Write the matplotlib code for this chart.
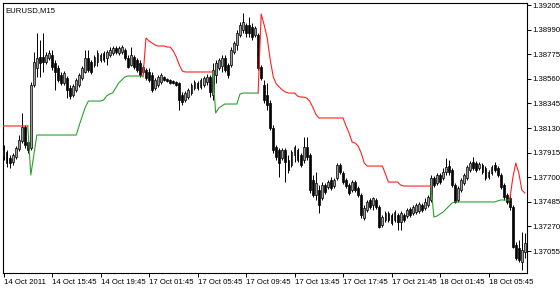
import numpy as np
import matplotlib
matplotlib.use('Agg')
import matplotlib.pyplot as plt

plt.rcParams['font.family'] = ['Liberation Sans', 'DejaVu Sans']

title = 'EURUSD,M15'

opens = [
    1.37886, 1.37921, 1.37868, 1.37833, 1.37877, 1.37947, 1.38017, 1.38139, 1.38008, 1.37955,
    1.38506, 1.38655, 1.38751, 1.38751, 1.38707, 1.38742, 1.38768, 1.38698, 1.38655, 1.38593,
    1.38524, 1.38567, 1.38480, 1.38419, 1.38462, 1.38506, 1.38567, 1.38620, 1.38742, 1.38707,
    1.38681, 1.38707, 1.38725, 1.38786, 1.38742, 1.38768, 1.38786, 1.38829, 1.38786, 1.38795,
    1.38812, 1.38742, 1.38681, 1.38751, 1.38725, 1.38698, 1.38620, 1.38637, 1.38620, 1.38593,
    1.38480, 1.38506, 1.38532, 1.38576, 1.38559, 1.38550, 1.38541, 1.38532, 1.38524, 1.38419,
    1.38375, 1.38401, 1.38436, 1.38480, 1.38524, 1.38489, 1.38506, 1.38532, 1.38576, 1.38419,
    1.38593, 1.38655, 1.38672, 1.38742, 1.38681, 1.38681, 1.38795, 1.38856, 1.38943, 1.38987,
    1.39030, 1.39030, 1.39013, 1.38943, 1.38943, 1.38663, 1.38506, 1.38419, 1.38349, 1.38130,
    1.37964, 1.37938, 1.37868, 1.37938, 1.37851, 1.37807, 1.37894, 1.37938, 1.37894, 1.37851,
    1.37964, 1.37894, 1.37676, 1.37545, 1.37588, 1.37518, 1.37632, 1.37615, 1.37676,
    1.37623, 1.37693, 1.37807, 1.37737, 1.37676, 1.37632, 1.37588, 1.37658, 1.37606, 1.37545,
    1.37344, 1.37414, 1.37501, 1.37457, 1.37501, 1.37440, 1.37283, 1.37326, 1.37387, 1.37370,
    1.37326, 1.37370, 1.37309, 1.37370, 1.37361, 1.37422, 1.37387, 1.37396, 1.37405, 1.37457,
    1.37431, 1.37457, 1.37501, 1.37693, 1.37650, 1.37719, 1.37693, 1.37746, 1.37798, 1.37763,
    1.37632, 1.37501, 1.37588, 1.37650, 1.37693, 1.37763, 1.37833, 1.37824, 1.37781, 1.37807,
    1.37781, 1.37702, 1.37737, 1.37807, 1.37781, 1.37719, 1.37632, 1.37545, 1.37518, 1.37440,
    1.37108, 1.37081, 1.36959, 1.37047,
]
highs = [
    1.37982, 1.37938, 1.37894, 1.37912, 1.37973, 1.38069, 1.38261, 1.38156, 1.38069, 1.38532,
    1.38795, 1.38961, 1.38899, 1.38961, 1.38795, 1.38812, 1.38812, 1.38725, 1.38681, 1.38620,
    1.38628, 1.38585, 1.38506, 1.38515, 1.38567, 1.38611, 1.38672, 1.38812, 1.38812, 1.38725,
    1.38768, 1.38812, 1.38786, 1.38803, 1.38812, 1.38838, 1.38847, 1.38847, 1.38847, 1.38856,
    1.38829, 1.38768, 1.38838, 1.38768, 1.38742, 1.38725, 1.38681, 1.38655, 1.38655, 1.38620,
    1.38567, 1.38593, 1.38611, 1.38585, 1.38567, 1.38559, 1.38550, 1.38541, 1.38532, 1.38445,
    1.38454, 1.38480, 1.38524, 1.38550, 1.38541, 1.38567, 1.38585, 1.38602, 1.38593, 1.38698,
    1.38725, 1.38742, 1.38768, 1.38768, 1.38698, 1.38838, 1.38891, 1.38987, 1.39057, 1.39135,
    1.39048, 1.39100, 1.39048, 1.39022, 1.38961, 1.38681, 1.38550, 1.38524, 1.38375, 1.38156,
    1.37982, 1.37955, 1.37955, 1.37955, 1.37894, 1.37938, 1.37982, 1.37955, 1.37912, 1.38052,
    1.38052, 1.37912, 1.37719, 1.37746, 1.37632, 1.37658, 1.37650, 1.37676, 1.37702,
    1.37693, 1.37824, 1.37824, 1.37754, 1.37693, 1.37650, 1.37676, 1.37676, 1.37623, 1.37562,
    1.37457, 1.37501, 1.37518, 1.37527, 1.37518, 1.37457, 1.37370, 1.37405, 1.37405, 1.37387,
    1.37414, 1.37387, 1.37405, 1.37387, 1.37431, 1.37440, 1.37457, 1.37475, 1.37484, 1.37475,
    1.37518, 1.37545, 1.37719, 1.37711, 1.37737, 1.37737, 1.37781, 1.37868, 1.37851, 1.37781,
    1.37650, 1.37623, 1.37693, 1.37737, 1.37807, 1.37842, 1.37877, 1.37842, 1.37833, 1.37824,
    1.37798, 1.37763, 1.37807, 1.37833, 1.37798, 1.37737, 1.37650, 1.37562, 1.37545, 1.37457,
    1.37134, 1.37151, 1.37221, 1.37213,
]
lows = [
    1.37851, 1.37789, 1.37781, 1.37807, 1.37859, 1.37929, 1.37999, 1.37955, 1.37912, 1.37938,
    1.38489, 1.38576, 1.38576, 1.38620, 1.38690, 1.38725, 1.38637, 1.38462, 1.38532, 1.38506,
    1.38506, 1.38392, 1.38384, 1.38401, 1.38445, 1.38489, 1.38550, 1.38611, 1.38620, 1.38602,
    1.38663, 1.38672, 1.38707, 1.38707, 1.38681, 1.38751, 1.38768, 1.38777, 1.38768, 1.38777,
    1.38725, 1.38655, 1.38672, 1.38646, 1.38620, 1.38576, 1.38602, 1.38550, 1.38532, 1.38445,
    1.38462, 1.38489, 1.38515, 1.38541, 1.38532, 1.38515, 1.38515, 1.38497, 1.38288, 1.38331,
    1.38358, 1.38384, 1.38419, 1.38462, 1.38462, 1.38471, 1.38489, 1.38506, 1.38401, 1.38375,
    1.38524, 1.38637, 1.38620, 1.38620, 1.38567, 1.38663, 1.38777, 1.38812, 1.38926, 1.38961,
    1.38926, 1.38926, 1.38899, 1.38926, 1.38637, 1.38550, 1.38349, 1.38288, 1.38113, 1.37912,
    1.37851, 1.37702, 1.37851, 1.37658, 1.37737, 1.37789, 1.37833, 1.37833, 1.37789, 1.37824,
    1.37851, 1.37562, 1.37527, 1.37501, 1.37387, 1.37501, 1.37553, 1.37597, 1.37588,
    1.37606, 1.37676, 1.37728, 1.37641, 1.37606, 1.37545, 1.37571, 1.37571, 1.37527, 1.37344,
    1.37326, 1.37396, 1.37422, 1.37414, 1.37422, 1.37256, 1.37265, 1.37309, 1.37309, 1.37283,
    1.37309, 1.37239, 1.37239, 1.37309, 1.37344, 1.37352, 1.37370, 1.37379, 1.37387, 1.37396,
    1.37414, 1.37440, 1.37484, 1.37615, 1.37632, 1.37641, 1.37676, 1.37719, 1.37719, 1.37615,
    1.37475, 1.37484, 1.37571, 1.37632, 1.37676, 1.37746, 1.37763, 1.37746, 1.37763, 1.37728,
    1.37676, 1.37685, 1.37719, 1.37746, 1.37702, 1.37597, 1.37501, 1.37466, 1.37414, 1.37081,
    1.36977, 1.36959, 1.36889, 1.36994,
]
closes = [
    1.37938, 1.37824, 1.37824, 1.37894, 1.37955, 1.38025, 1.38139, 1.37982, 1.37938, 1.38506,
    1.38707, 1.38742, 1.38698, 1.38707, 1.38768, 1.38786, 1.38663, 1.38620, 1.38550, 1.38524,
    1.38611, 1.38462, 1.38410, 1.38497, 1.38550, 1.38593, 1.38655, 1.38742, 1.38637, 1.38620,
    1.38751, 1.38786, 1.38768, 1.38725, 1.38795, 1.38812, 1.38829, 1.38795, 1.38829, 1.38838,
    1.38742, 1.38663, 1.38768, 1.38663, 1.38637, 1.38593, 1.38663, 1.38567, 1.38550, 1.38462,
    1.38550, 1.38576, 1.38593, 1.38550, 1.38541, 1.38524, 1.38524, 1.38506, 1.38375, 1.38358,
    1.38436, 1.38462, 1.38506, 1.38532, 1.38480, 1.38550, 1.38567, 1.38576, 1.38445, 1.38637,
    1.38698, 1.38725, 1.38742, 1.38637, 1.38593, 1.38812, 1.38873, 1.38961, 1.39030, 1.39057,
    1.38961, 1.38961, 1.38926, 1.39004, 1.38655, 1.38567, 1.38375, 1.38331, 1.38130, 1.37938,
    1.37877, 1.37824, 1.37938, 1.37833, 1.37763, 1.37921, 1.37964, 1.37851, 1.37807, 1.37964,
    1.37877, 1.37588, 1.37545, 1.37650, 1.37457, 1.37632, 1.37571, 1.37658, 1.37606,
    1.37676, 1.37807, 1.37746, 1.37658, 1.37623, 1.37562, 1.37658, 1.37588, 1.37545, 1.37370,
    1.37431, 1.37484, 1.37440, 1.37518, 1.37440, 1.37265, 1.37352, 1.37387, 1.37326, 1.37300,
    1.37396, 1.37309, 1.37387, 1.37326, 1.37414, 1.37370, 1.37440, 1.37457, 1.37466, 1.37414,
    1.37484, 1.37527, 1.37693, 1.37632, 1.37719, 1.37658, 1.37746, 1.37789, 1.37746, 1.37632,
    1.37484, 1.37606, 1.37676, 1.37719, 1.37789, 1.37824, 1.37781, 1.37763, 1.37816, 1.37746,
    1.37693, 1.37746, 1.37789, 1.37763, 1.37719, 1.37615, 1.37527, 1.37484, 1.37440, 1.37090,
    1.36994, 1.36977, 1.37064, 1.37125,
]

# indicator: (first bar, values)
red_segments = [
    (0, [1.38148] * 9),
    (46, [1.38576, 1.38917, 1.38891, 1.38873, 1.38856, 1.38847, 1.38847, 1.38847,
          1.38838, 1.38838, 1.38803, 1.38751, 1.38681, 1.38628] + [1.38620] * 10),
    (84, [1.38436, 1.39127, 1.39030, 1.38917, 1.38725, 1.38576, 1.38515, 1.38489,
          1.38462, 1.38445] + [1.38436] * 3 + [1.38410] + [1.38401] * 2
         + [1.38392, 1.38366, 1.38314, 1.38253] + [1.38218] * 9
         + [1.38148, 1.38087, 1.38008, 1.37999, 1.37973, 1.37912, 1.37824]
         + [1.37798] * 6 + [1.37728] + [1.37658] * 4 + [1.37632] + [1.37623] * 10),
    (167, [1.37501, 1.37693, 1.37824, 1.37737, 1.37588, 1.37562]),
]
green_segments = [
    (8, [1.38148, 1.37719, 1.37894] + [1.38069] * 14 + [1.38156, 1.38235, 1.38314]
        + [1.38366] * 5 + [1.38375, 1.38410, 1.38427, 1.38436, 1.38480, 1.38524,
                           1.38550, 1.38576] + [1.38585] * 6),
    (69, [1.38620, 1.38261, 1.38305, 1.38323] + [1.38340] * 5 + [1.38427] + [1.38436] * 6),
    (141, [1.37623, 1.37352, 1.37361, 1.37379, 1.37396, 1.37422, 1.37449, 1.37475]
          + [1.37484] * 14 + [1.37492] + [1.37501] * 4),
]

tick_bars = [0, 16, 32, 48, 64, 80, 96, 112, 128, 144, 160]
tick_labels = ['14 Oct 2011', '14 Oct 15:45', '14 Oct 19:45', '17 Oct 01:45',
               '17 Oct 05:45', '17 Oct 09:45', '17 Oct 13:45', '17 Oct 17:45',
               '17 Oct 21:45', '18 Oct 01:45', '18 Oct 05:45']
price_ticks = [1.39205, 1.38990, 1.38775, 1.38560, 1.38345, 1.38130,
               1.37915, 1.37700, 1.37485, 1.37270, 1.37055]


def build_line(segments, n):
    arr = np.full(n, np.nan)
    for start, vals in segments:
        arr[start:start + len(vals)] = vals
    return arr


o = np.array(opens)
h = np.array(highs)
l = np.array(lows)
c = np.array(closes)
n = len(o)
x = np.arange(n)

red = build_line(red_segments, n)
green = build_line(green_segments, n)

fig = plt.figure(figsize=(5.6, 2.88), dpi=100)
ax = fig.add_axes([3 / 560, 15 / 288, 524 / 560, 270 / 288])

ax.vlines(x, l, h, color='black', linewidth=0.7, zorder=2)
up = c >= o
body_lo = np.minimum(o, c)
body_h = np.maximum(np.abs(c - o), 0.00002)
ax.bar(x[up], body_h[up], bottom=body_lo[up], width=0.62, color='#9c9c9c',
       edgecolor='black', linewidth=0.5, zorder=3)
ax.bar(x[~up], body_h[~up], bottom=body_lo[~up], width=0.62, color='black',
       edgecolor='black', linewidth=0.5, zorder=3)

ax.plot(x, red, color='#ff2020', linewidth=0.8, zorder=4)
ax.plot(x, green, color='#2ca02c', linewidth=0.8, zorder=4)

ax.set_xlim(-0.17, 172.7)
ax.set_ylim(1.36863, 1.39223)

ax.yaxis.tick_right()
ax.set_yticks(price_ticks)
ax.set_yticklabels(['%.5f' % p for p in price_ticks])
ax.set_xticks(tick_bars)
ax.set_xticklabels(tick_labels)
for lab in ax.get_xticklabels():
    lab.set_horizontalalignment('left')
ax.tick_params(axis='both', labelsize=5.6, length=3, width=0.7, pad=1, color='black')
ax.tick_params(axis='x', pad=1.5)

for s in ax.spines.values():
    s.set_color('black')
    s.set_linewidth(0.8)

ax.text(0.005, 0.985, title, transform=ax.transAxes, ha='left', va='top', fontsize=5.6)

fig.savefig('out.png', dpi=100)
